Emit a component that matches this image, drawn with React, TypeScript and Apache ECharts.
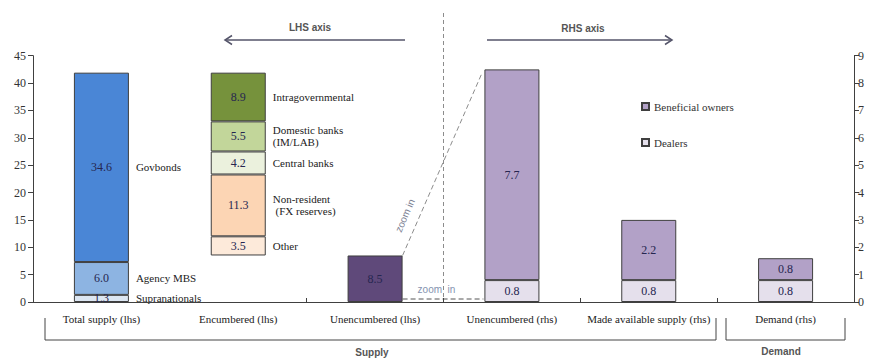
import React, { useEffect, useRef } from "react";
import * as echarts from "echarts";

const categories = [
  "Total supply (lhs)",
  "Encumbered (lhs)",
  "Unencumbered (lhs)",
  "Unencumbered (rhs)",
  "Made available supply (rhs)",
  "Demand (rhs)",
];

// Total supply (lhs), stacked bottom to top
const supplyNames = ["Supranationals", "Agency MBS", "Govbonds"];
const supplyValues = [1.3, 6.0, 34.6];
const supplyColors = ["#dce6f2", "#8db4e2", "#4a86d6"];

// Encumbered (lhs), stacked bottom to top on top of the unencumbered amount
const encumberedNames = ["Other", "Non-resident\n (FX reserves)", "Central banks", "Domestic banks\n(IM/LAB)", "Intragovernmental"];
const encumberedValues = [3.5, 11.3, 4.2, 5.5, 8.9];
const encumberedColors = ["#fdeada", "#fcd5b4", "#ebf1dd", "#c2d69a", "#76923c"];

const unencumberedLhs = 8.5;

// rhs bars: Unencumbered (rhs), Made available supply (rhs), Demand (rhs)
const rhsIndexes = [3, 4, 5];
const dealers = [0.8, 0.8, 0.8];
const beneficialOwners = [7.7, 2.2, 0.8];

const lhsMax = 45;
const lhsInterval = 5;
const rhsMax = 9;
const rhsInterval = 1;

const SERIF = "Liberation Serif";
const SANS = "Liberation Sans";
const BAR_W = 55;
const EDGE = "#3f3f3f";
const LABEL_COLOR = "#262650";

function at(index: number, value: number) {
  return categories.map((_, i) => (i === index ? value : "-"));
}

const valueLabel = {
  show: true,
  position: "inside",
  fontFamily: SERIF,
  fontSize: 12,
  color: LABEL_COLOR,
  formatter: (p: any) => Number(p.value).toFixed(1),
};

function barSeries(name: string, data: any[], color: string, stack: string, yAxisIndex: number) {
  return {
    name,
    type: "bar",
    stack,
    yAxisIndex,
    barWidth: BAR_W,
    barGap: "-100%",
    data,
    itemStyle: { color, borderColor: EDGE, borderWidth: 1 },
    label: valueLabel,
  };
}

export default function App() {
  const ref = useRef<HTMLDivElement>(null);

  useEffect(() => {
    if (!ref.current) return;
    const chart = echarts.init(ref.current, undefined, { renderer: "svg" });

    const series: any[] = [];
    supplyValues.forEach((v, k) => series.push(barSeries(supplyNames[k], at(0, v), supplyColors[k], "lhs", 0)));
    // invisible base so the encumbered bar floats above the unencumbered amount
    series.push({
      name: "base",
      type: "bar",
      stack: "lhs",
      yAxisIndex: 0,
      barWidth: BAR_W,
      barGap: "-100%",
      data: at(1, unencumberedLhs),
      itemStyle: { color: "transparent" },
      label: { show: false },
      silent: true,
    });
    encumberedValues.forEach((v, k) => series.push(barSeries(encumberedNames[k], at(1, v), encumberedColors[k], "lhs", 0)));
    series.push(barSeries("Unencumbered", at(2, unencumberedLhs), "#5f497a", "lhs", 0));

    const dealerData = categories.map(() => "-" as any);
    const ownerData = categories.map(() => "-" as any);
    rhsIndexes.forEach((ci, k) => {
      dealerData[ci] = dealers[k];
      ownerData[ci] = beneficialOwners[k];
    });
    series.push(barSeries("Dealers", dealerData, "#e5e0ec", "rhs", 1));
    series.push(barSeries("Beneficial owners", ownerData, "#b2a1c7", "rhs", 1));

    const axisLine = { show: true, lineStyle: { color: "#404040", width: 1 } };

    const option: any = {
      animation: false,
      backgroundColor: "#ffffff",
      grid: { left: 33, right: 18, top: 55.7, bottom: 57 },
      legend: {
        data: ["Beneficial owners", "Dealers"],
        orient: "vertical",
        left: 636,
        top: 96,
        itemGap: 25,
        itemWidth: 7,
        itemHeight: 7,
        icon: "rect",
        selectedMode: false,
        textStyle: { fontFamily: SERIF, fontSize: 11, color: "#333" },
      },
      xAxis: {
        type: "category",
        data: categories,
        axisLine,
        axisTick: { show: true, inside: true, length: 4, interval: 0, lineStyle: { color: "#404040" } },
        axisLabel: { interval: 0, margin: 11, fontFamily: SERIF, fontSize: 11, color: "#222" },
      },
      yAxis: [
        {
          type: "value",
          min: 0,
          max: lhsMax,
          interval: lhsInterval,
          axisLine,
          splitLine: { show: false },
          axisTick: { show: true, length: 5, lineStyle: { color: "#404040" } },
          axisLabel: { margin: 7, fontFamily: SERIF, fontSize: 12, color: "#333" },
        },
        {
          type: "value",
          min: 0,
          max: rhsMax,
          interval: rhsInterval,
          position: "right",
          axisLine,
          splitLine: { show: false },
          axisTick: { show: true, length: 5, lineStyle: { color: "#404040" } },
          axisLabel: { margin: 4, fontFamily: SERIF, fontSize: 12, color: "#333" },
        },
      ],
      series,
    };

    chart.setOption(option);

    const xC = (i: number) => chart.convertToPixel({ xAxisIndex: 0 }, i) as number;
    const yL = (v: number) => chart.convertToPixel({ yAxisIndex: 0 }, v) as number;
    const yR = (v: number) => chart.convertToPixel({ yAxisIndex: 1 }, v) as number;

    const graphics: any[] = [];
    const sideText = (text: string, x: number, y: number) => ({
      type: "text",
      x,
      y,
      style: {
        text,
        fontFamily: SERIF,
        fontSize: 11,
        fill: "#222",
        textVerticalAlign: "middle",
        textAlign: "left",
        lineHeight: 12,
      },
    });

    // segment names to the right of the two lhs stacks
    let cum = 0;
    supplyValues.forEach((v, k) => {
      graphics.push(sideText(supplyNames[k], xC(0) + BAR_W / 2 + 7, yL(cum + v / 2)));
      cum += v;
    });
    cum = unencumberedLhs;
    encumberedValues.forEach((v, k) => {
      graphics.push(sideText(encumberedNames[k], xC(1) + BAR_W / 2 + 7, yL(cum + v / 2)));
      cum += v;
    });

    const yBase = yL(0);
    const xSplit = (xC(2) + xC(3)) / 2;
    const dashColor = "#8c8c8c";

    // lhs / rhs divider
    graphics.push({
      type: "line",
      shape: { x1: xSplit, y1: 13, x2: xSplit, y2: yBase },
      style: { stroke: dashColor, lineWidth: 1, lineDash: [4, 3] },
    });

    // zoom-in guides from the lhs bar to the rhs bar
    const zx1 = xC(2) + BAR_W / 2;
    const zy1 = yL(unencumberedLhs);
    const zx2 = xC(3) - BAR_W / 2 - 3;
    const zy2 = yR(dealers[0] + beneficialOwners[0]) + 5;
    graphics.push({
      type: "line",
      shape: { x1: zx1, y1: zy1, x2: zx2, y2: zy2 },
      style: { stroke: dashColor, lineWidth: 1, lineDash: [5, 3] },
    });
    graphics.push({
      type: "line",
      shape: { x1: zx1, y1: yBase - 3, x2: xC(3) - BAR_W / 2 - 1, y2: yBase - 3 },
      style: { stroke: "#555", lineWidth: 1, lineDash: [5, 3] },
    });
    const ang = Math.atan2(zy1 - zy2, zx2 - zx1);
    graphics.push({
      type: "text",
      x: zx1 + 0.22 * (zx2 - zx1) - 15,
      y: zy1 + 0.22 * (zy2 - zy1),
      rotation: ang,
      style: {
        text: "zoom in",
        fontFamily: SANS,
        fontSize: 10,
        fill: "#7b8092",
        textAlign: "center",
        textVerticalAlign: "middle",
      },
    });
    graphics.push({
      type: "text",
      x: xSplit - 7,
      y: yBase - 13,
      style: {
        text: "zoom  in",
        fontFamily: SANS,
        fontSize: 10,
        fill: "#8593b0",
        textAlign: "center",
        textVerticalAlign: "middle",
      },
    });

    // axis direction arrows
    const arrowColor = "#55556a";
    graphics.push({
      type: "line",
      shape: { x1: 405, y1: 40, x2: 225, y2: 40 },
      style: { stroke: arrowColor, lineWidth: 1.5 },
    });
    graphics.push({
      type: "polyline",
      shape: { points: [[232, 35.5], [225, 40], [232, 44.5]] },
      style: { stroke: arrowColor, lineWidth: 1.5, fill: null },
    });
    graphics.push({
      type: "line",
      shape: { x1: 487, y1: 40, x2: 672, y2: 40 },
      style: { stroke: arrowColor, lineWidth: 1.5 },
    });
    graphics.push({
      type: "polyline",
      shape: { points: [[665, 35.5], [672, 40], [665, 44.5]] },
      style: { stroke: arrowColor, lineWidth: 1.5, fill: null },
    });
    const headText = (text: string, x: number, y: number) => ({
      type: "text",
      x,
      y,
      style: {
        text,
        fontFamily: SANS,
        fontSize: 10,
        fontWeight: "bold",
        fill: "#555",
        textAlign: "center",
        textVerticalAlign: "middle",
      },
    });
    graphics.push(headText("LHS axis", 310, 27));
    graphics.push(headText("RHS axis", 583, 28));

    // group brackets under the category labels
    const bracketStyle = { stroke: "#444", lineWidth: 1, fill: null };
    graphics.push({
      type: "polyline",
      shape: { points: [[45, 318], [45, 340], [716, 340], [716, 318]] },
      style: bracketStyle,
    });
    graphics.push({
      type: "polyline",
      shape: { points: [[726, 318], [726, 340], [845, 340], [845, 318]] },
      style: bracketStyle,
    });
    graphics.push(headText("Supply", 372, 352));
    graphics.push(headText("Demand", 781, 351));

    chart.setOption({ graphic: graphics });

    return () => chart.dispose();
  }, []);

  return (
    <div
      ref={ref}
      style={{ position: "fixed", left: 0, top: 0, width: 872, height: 359 }}
    />
  );
}
